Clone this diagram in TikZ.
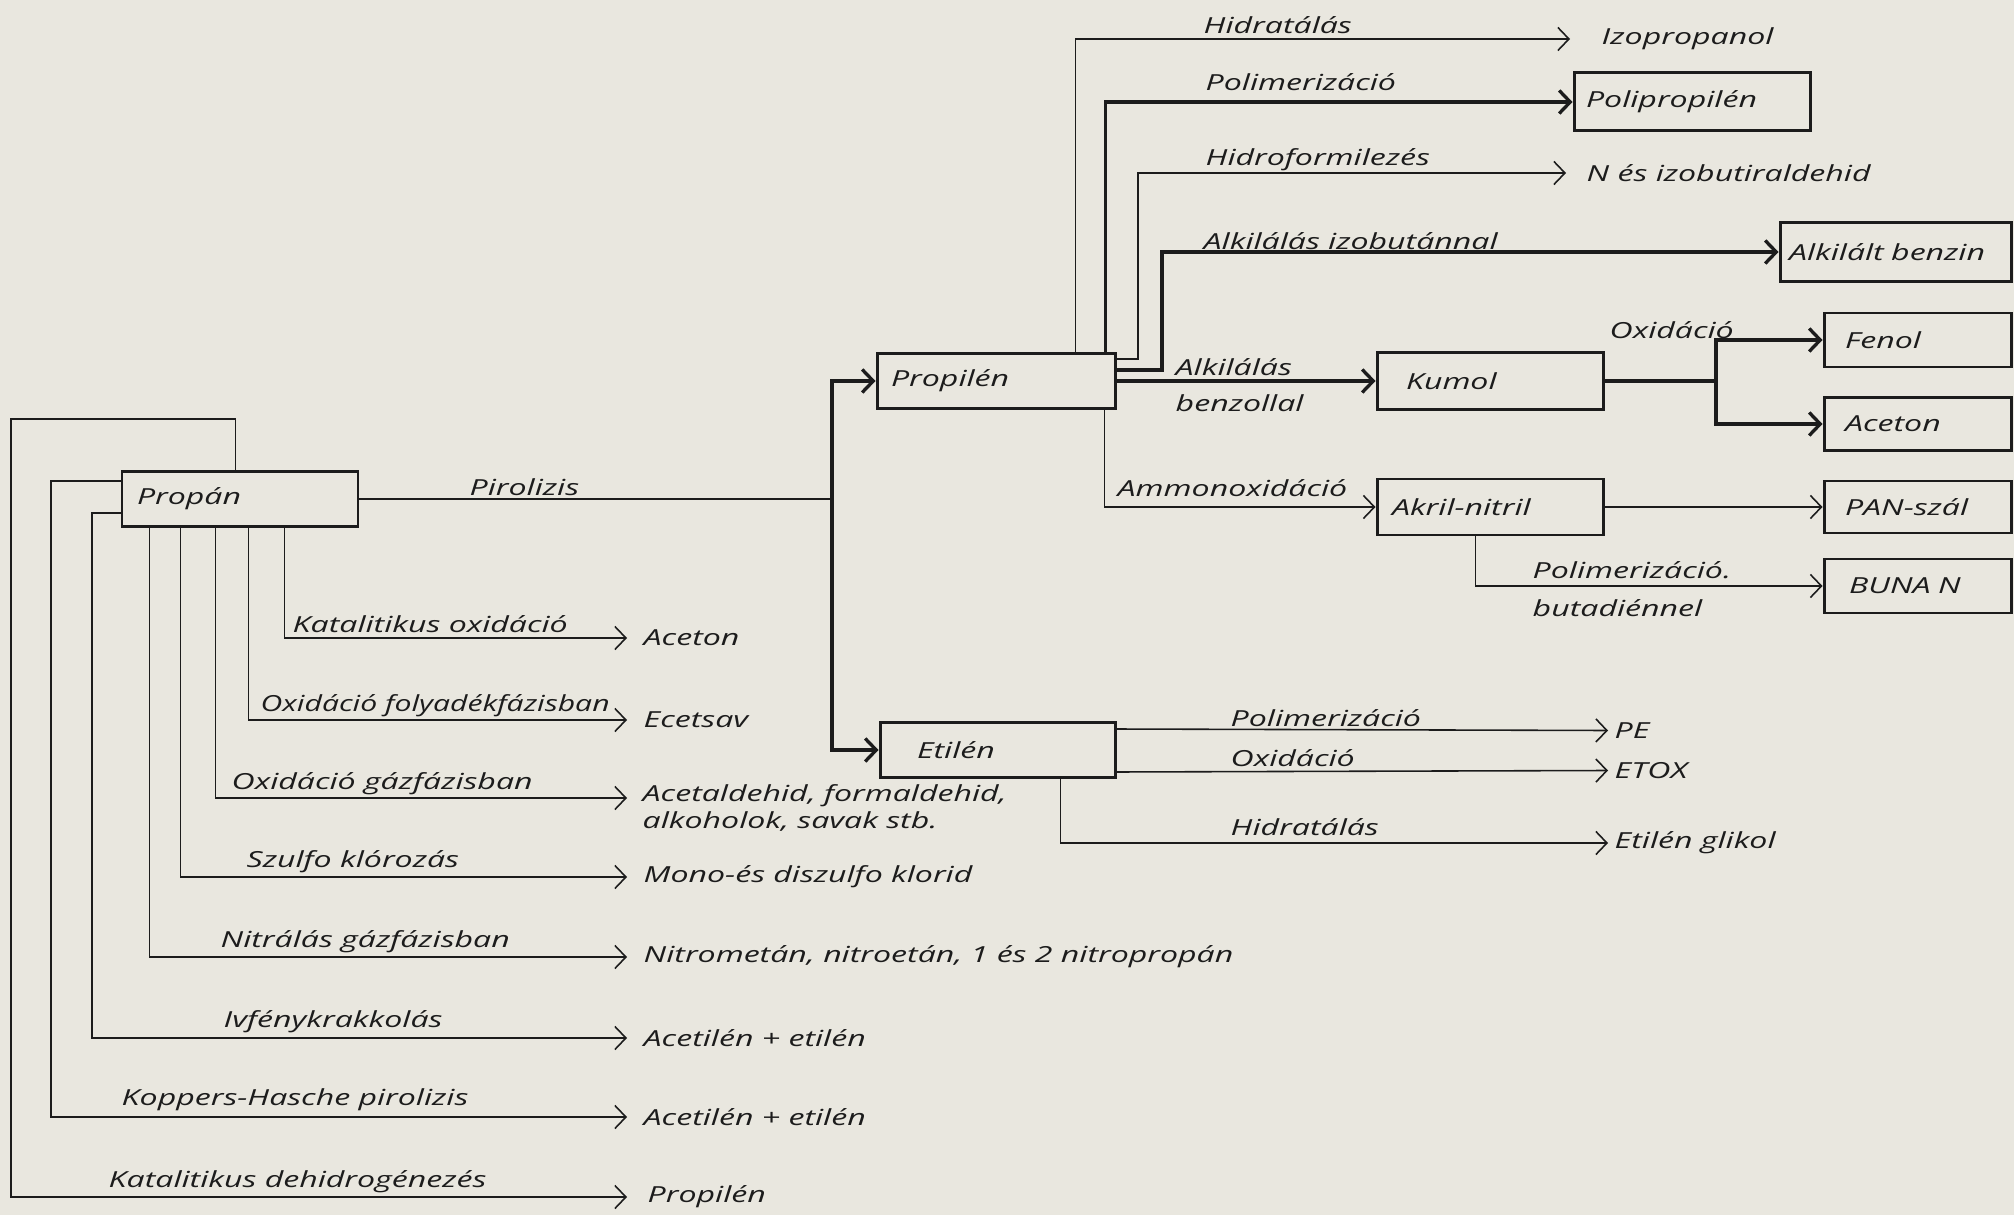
\documentclass[tikz,border=0pt]{standalone}
\usepackage{graphicx}
\usepackage{fontspec}
\setmainfont{Open Sans}[FakeStretch=1.45]
\usetikzlibrary{arrows.meta}
\definecolor{paper}{RGB}{233,231,223}
\definecolor{ink}{RGB}{28,28,28}
\begin{document}
\begin{tikzpicture}[x=0.1mm,y=-0.1mm,
  every node/.style={font=\fontsize{6.3pt}{7.7pt}\selectfont\itshape, text=ink},
  box/.style={draw=ink, line width=0.85pt, inner ysep=0pt, align=left},
  lbl/.style={anchor=west, inner sep=0pt},
  res/.style={anchor=west, inner ysep=0pt, inner xsep=#1, align=left},
  thinl/.style={draw=ink, line width=0.45pt},
  medl/.style={draw=ink, line width=0.7pt},
  thickl/.style={draw=ink, line width=0.95pt},
  arr/.style={-{Straight Barb[length=1.1mm,width=2.3mm]}},
  line join=miter]
\useasboundingbox (0,0) rectangle (2014,1215);
\fill[paper] (0,0) rectangle (2014,1215);

% ---- boxes ----
\node[box, inner xsep=1.5mm, text width=20.6mm, minimum height=5.5mm] (propan) at (240,499) {Propán};
\node[box, inner xsep=1.4mm, text width=21mm, minimum height=5.5mm] (propilen) at (996,381) {Propilén};
\node[box, inner xsep=3.7mm, text width=16.1mm, minimum height=5.5mm] (etilen) at (997.5,750) {Etilén};
\node[box, inner xsep=2.9mm, text width=16.8mm, minimum height=5.7mm] (kumol) at (1490,381) {Kumol};
\node[box, inner xsep=1.5mm, text width=19.6mm, minimum height=5.6mm] (akril) at (1490,507) {Akril-nitril};
\node[box, inner xsep=1.2mm, text width=21.2mm, minimum height=5.8mm] (polipropilen) at (1692,102) {Polipropilén};
\node[box, inner xsep=0.9mm, text width=21.3mm, minimum height=5.9mm] (alkbenzin) at (1895.5,252) {Alkilált benzin};
\node[box, inner xsep=2.1mm, text width=14.5mm, minimum height=5.4mm] (fenol) at (1917.5,340) {Fenol};
\node[box, inner xsep=2.1mm, text width=14.5mm, minimum height=5.3mm] (aceton2) at (1917.5,424) {Aceton};
\node[box, inner xsep=2.1mm, text width=14.5mm, minimum height=5.2mm] (pan) at (1917.5,507) {PAN-szál};
\node[box, inner xsep=2.5mm, text width=13.7mm, minimum height=5.4mm] (buna) at (1917.5,586) {BUNA N};

% ---- result texts ----
\node[res=1.6mm] (rAceton) at (627,638) {Aceton};
\node[res=1.6mm] (rEcet) at (627,720) {Ecetsav};
\node[res=1.5mm] (rAcetald) at (627,808) {Acetaldehid, formaldehid,\\alkoholok, savak stb.};
\node[res=1.6mm] (rMono) at (627,877) {Mono-és diszulfo klorid};
\node[res=1.6mm] (rNitro) at (627,957) {Nitrometán, nitroetán, 1 és 2 nitropropán};
\node[res=1.6mm] (rAcet1) at (627,1038) {Acetilén + etilén};
\node[res=1.6mm] (rAcet2) at (627,1117) {Acetilén + etilén};
\node[res=2mm] (rPropil) at (627,1197) {Propilén};
\node[res=3.1mm] (rIzo) at (1570,39) {Izopropanol};
\node[res=2mm] (rNes) at (1566,173) {N és izobutiraldehid};
\node[res=0.6mm] (rPE) at (1608,730.5) {PE};
\node[res=0.6mm] (rETOX) at (1608,770.5) {ETOX};
\node[res=0.6mm] (rGlikol) at (1608,843) {Etilén glikol};

% ---- labels ----
\node[lbl] (lPir) at (469,487) {Pirolizis};
\node[lbl] (lKat) at (292,624) {Katalitikus oxidáció};
\node[lbl] (lFoly) at (260,706) {\scalebox{0.94}[1]{Oxidáció folyadékfázisban}};
\node[lbl] (lGaz) at (231,784) {Oxidáció gázfázisban};
\node[lbl] (lSzulfo) at (246,862) {Szulfo klórozás};
\node[lbl] (lNitr) at (220,942) {Nitrálás gázfázisban};
\node[lbl] (lIv) at (223,1022) {Ivfénykrakkolás};
\node[lbl] (lKopp) at (121,1100) {Koppers-Hasche pirolizis};
\node[lbl] (lDehid) at (108,1182) {Katalitikus dehidrogénezés};
\node[lbl] (lHidr1) at (1203,25) {Hidratálás};
\node[lbl] (lPol1) at (1205,82) {Polimerizáció};
\node[lbl] (lHform) at (1205,160) {Hidroformilezés};
\node[lbl] (lAlkIzo) at (1203,241) {Alkilálás izobutánnal};
\node[lbl] (lAlk) at (1175,367) {Alkilálás};
\node[lbl] (lBenz) at (1175,403) {benzollal};
\node[lbl] (lOx1) at (1609,330) {Oxidáció};
\node[lbl] (lAmm) at (1117,488) {Ammonoxidáció};
\node[lbl] (lPol2) at (1532,570) {Polimerizáció.};
\node[lbl] (lBut) at (1532,608) {butadiénnel};
\node[lbl] (lPol3) at (1230,718) {Polimerizáció};
\node[lbl] (lOx2) at (1230,758) {Oxidáció};
\node[lbl] (lHidr2) at (1230,827) {Hidratálás};

% ---- junctions ----
\coordinate (pj) at (832,499);
\coordinate (kj) at (1716,381);

% ---- Propán connectors ----
\draw[thinl,arr] ([xshift=16.4mm]propan.south west) |- (rAceton.west);
\draw[thinl,arr] ([xshift=12.8mm]propan.south west) |- (rEcet.west);
\draw[thinl,arr] ([xshift=9.5mm]propan.south west) |- ([yshift=1mm]rAcetald.west);
\draw[thinl,arr] ([xshift=6mm]propan.south west) |- (rMono.west);
\draw[thinl,arr] ([xshift=2.9mm]propan.south west) |- (rNitro.west);
\draw[thinl,arr] ([yshift=-4.3mm]propan.north west) -| (92,1038) -- (rAcet1.west);
\draw[thinl,arr] ([yshift=-1.1mm]propan.north west) -| (51,1117) -- (rAcet2.west);
\draw[thinl,arr] ([xshift=11.5mm]propan.north west) |- (11,419) |- (rPropil.west);

\draw[medl] (propan.east) -- (pj);
\draw[thickl,arr] (pj) |- (propilen.west);
\draw[thickl,arr] (pj) |- (etilen.west);

% ---- Propilén connectors ----
\draw[thinl,arr] ([xshift=20mm]propilen.north west) |- (rIzo.west);
\draw[thickl,arr] ([xshift=23mm]propilen.north west) |- (polipropilen.west);
\draw[thinl,arr] ([yshift=-0.7mm]propilen.north east) -| (1138,173) -- (rNes.west);
\draw[thickl,arr] ([yshift=-1.8mm]propilen.north east) -| (1162,252) -- (alkbenzin.west);
\draw[thickl,arr] (propilen.east) -- (kumol.west);
\draw[thinl,arr] ([xshift=22.9mm]propilen.south west) |- (akril.west);

% ---- Kumol ----
\draw[thickl] (kumol.east) -- (kj);
\draw[thickl,arr] (kj) |- (fenol.west);
\draw[thickl,arr] (kj) |- (aceton2.west);

% ---- Akril-nitril ----
\draw[thinl,arr] (akril.east) -- (pan.west);
\draw[thinl,arr] ([xshift=10mm]akril.south west) |- (buna.west);

% ---- Etilén ----
\draw[thinl,arr] ([yshift=-0.8mm]etilen.north east) -- (rPE.west);
\draw[thinl,arr] ([yshift=0.7mm]etilen.south east) -- (rETOX.west);
\draw[thinl,arr] ([xshift=18.2mm]etilen.south west) |- (rGlikol.west);
\end{tikzpicture}
\end{document}
